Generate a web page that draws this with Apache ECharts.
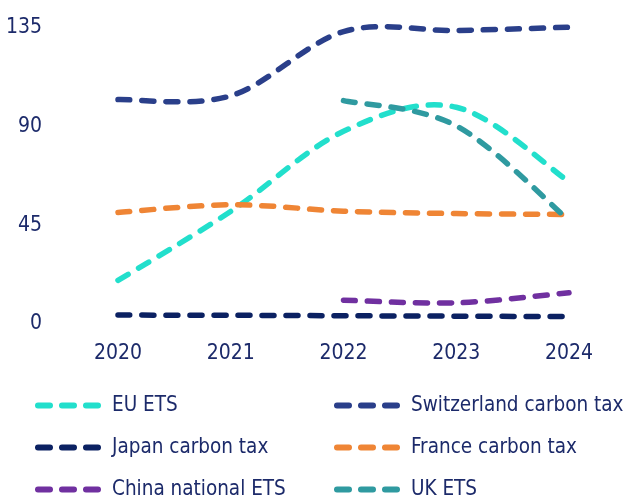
<!DOCTYPE html>
<html>
<head>
<meta charset="utf-8">
<script src="https://cdn.jsdelivr.net/npm/echarts@6/dist/echarts.min.js"></script>
<style>
  html, body { margin: 0; padding: 0; background: #ffffff; }
  #chart { width: 626px; height: 502px; }
</style>
</head>
<body>
<div id="chart"></div>
<script>
const years = ['2020', '2021', '2022', '2023', '2024'];
const yTicks = [0, 45, 90, 135];

const euEts = [18.5, 50, 86.5, 97.5, 63.5];
const switzerlandTax = [101, 102.7, 132, 132.5, 134];
const japanTax = [2.7, 2.6, 2.4, 2.2, 2.0];
const franceTax = [49.5, 53, 50.1, 49, 48.6];
const chinaEts = [null, null, 9.5, 8.3, 12.9];
const ukEts = [null, null, 100.5, 89, 45.9];

const seriesNames = ['EU ETS', 'Switzerland carbon tax', 'Japan carbon tax', 'France carbon tax', 'China national ETS', 'UK ETS'];
const seriesData = [euEts, switzerlandTax, japanTax, franceTax, chinaEts, ukEts];
const seriesColors = ['#22dfcc', '#2a3f8a', '#0b2162', '#ef8535', '#7030a0', '#2f9aa0'];

const FONT = '"DejaVu Sans Condensed", "Liberation Sans Narrow", "DejaVu Sans", sans-serif';
const TEXT = '#1c2a6a';
const dashIcon = 'path://M3,0h12a3,3 0 0 1 0,6h-12a3,3 0 0 1 0,-6z M27,0h12a3,3 0 0 1 0,6h-12a3,3 0 0 1 0,-6z M51,0h12a3,3 0 0 1 0,6h-12a3,3 0 0 1 0,-6z';

const chart = echarts.init(document.getElementById('chart'), null, { renderer: 'canvas' });

// Smooth curve (Catmull-Rom style, like spreadsheet smoothing) through the data points,
// positioned with the chart's own coordinate system.
function makeRenderItem(values, color) {
  return function (params, api) {
    if (params.dataIndex !== 0) return null;
    const pts = [];
    values.forEach((v, i) => { if (v !== null) pts.push(api.coord([i, v])); });
    if (pts.length < 2) return null;
    const k = 1 / 6;
    let d = 'M' + pts[0][0] + ',' + pts[0][1];
    for (let i = 0; i < pts.length - 1; i++) {
      const p0 = pts[Math.max(i - 1, 0)];
      const p1 = pts[i];
      const p2 = pts[i + 1];
      const p3 = pts[Math.min(i + 2, pts.length - 1)];
      const c1x = p1[0] + (p2[0] - p0[0]) * k;
      const c1y = p1[1] + (p2[1] - p0[1]) * k;
      const c2x = p2[0] - (p3[0] - p1[0]) * k;
      const c2y = p2[1] - (p3[1] - p1[1]) * k;
      d += 'C' + c1x + ',' + c1y + ',' + c2x + ',' + c2y + ',' + p2[0] + ',' + p2[1];
    }
    return {
      type: 'path',
      shape: { pathData: d },
      style: { fill: null, stroke: color, lineWidth: 5.5, lineDash: [12, 12], lineCap: 'round', lineJoin: 'round' },
      silent: true
    };
  };
}

const series = seriesNames.map((name, i) => {
  const vals = seriesData[i];
  const data = [];
  vals.forEach((v, j) => { if (v !== null) data.push([j, v]); });
  return {
    name: name,
    type: 'custom',
    coordinateSystem: 'cartesian2d',
    data: data,
    encode: { x: 0, y: 1 },
    itemStyle: { color: seriesColors[i] },
    renderItem: makeRenderItem(vals, seriesColors[i]),
    clip: false,
    z: 2 + i
  };
});

function legendFor(names, left) {
  return {
    orient: 'vertical',
    left: left,
    top: 395,
    padding: 0,
    itemWidth: 66,
    itemHeight: 6,
    itemGap: 21,
    icon: dashIcon,
    data: names,
    selectedMode: false,
    textStyle: { fontFamily: FONT, fontSize: 20.5, lineHeight: 20, color: TEXT, padding: [0, 0, 0, 6] }
  };
}

chart.setOption({
  animation: false,
  backgroundColor: '#ffffff',
  grid: { left: 118, right: 57, top: 25, bottom: 181, containLabel: false },
  legend: [
    legendFor(['EU ETS', 'Japan carbon tax', 'China national ETS'], 35),
    legendFor(['Switzerland carbon tax', 'France carbon tax', 'UK ETS'], 334)
  ],
  xAxis: {
    type: 'category',
    data: years,
    boundaryGap: false,
    axisLine: { show: false },
    axisTick: { show: false },
    splitLine: { show: false },
    axisLabel: { color: TEXT, fontFamily: FONT, fontSize: 21, margin: 22 }
  },
  yAxis: {
    type: 'value',
    min: yTicks[0],
    max: yTicks[yTicks.length - 1],
    interval: yTicks[1] - yTicks[0],
    axisLine: { show: false },
    axisTick: { show: false },
    splitLine: { show: false },
    axisLabel: { color: TEXT, fontFamily: FONT, fontSize: 21, margin: 76, verticalAlign: 'top', lineHeight: 6 }
  },
  series: series
});
</script>
</body>
</html>
